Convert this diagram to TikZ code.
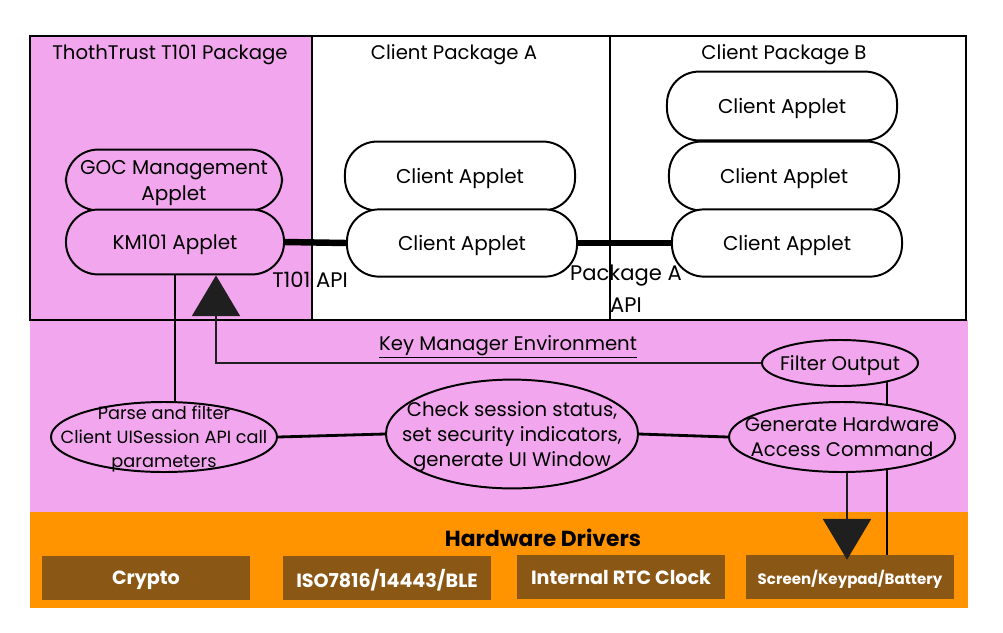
\documentclass[tikz,border=0pt]{standalone}
\usepackage{fontspec}
\setmainfont{Poppins}
\usetikzlibrary{shapes.geometric, arrows.meta, positioning, calc, backgrounds}
\definecolor{kmpink}{RGB}{242,166,238}
\definecolor{hworange}{RGB}{255,148,0}
\definecolor{drvbrown}{RGB}{139,87,20}

\begin{document}
\begin{tikzpicture}[
    x=0.025cm, y=-0.025cm,
    pkg/.style={draw, line width=1.4pt},
    title/.style={font=\fontsize{14}{18}\selectfont},
    applet/.style={draw, line width=1.4pt, rounded corners=0.8cm, minimum width=5.75cm, minimum height=1.72cm, font=\fontsize{14.2}{18.5}\selectfont, align=center, inner sep=1pt, text depth=0pt},
    task/.style={draw, line width=1.4pt, ellipse, fill=kmpink, inner sep=-25pt, align=center, font=\fontsize{14}{18}\selectfont, text depth=0pt},
    driver/.style={fill=drvbrown, text=white, font=\bfseries\fontsize{13.6}{16}\selectfont, minimum width=5.2cm, minimum height=1.1cm, text depth=0pt},
    link/.style={line width=2pt},
    api/.style={line width=4.6pt},
    arrow/.style={-{Triangle[width=34pt, length=29pt]}, line width=2pt, color=black!88}
]
    \useasboundingbox (0,0) rectangle (1003,632);

    % Regions
    \begin{scope}[on background layer]
        \fill[white] (0,0) rectangle (1003,632);
        \fill[kmpink] (30,320) rectangle (968,512);
        \fill[hworange] (30,512) rectangle (968,608);
    \end{scope}
    \draw[pkg, fill=kmpink] (30,36) rectangle (312,320);
    \draw[pkg] (312,36) rectangle (610,320);
    \draw[pkg] (610,36) rectangle (966,320);

    % Package titles
    \node[title] (t101) at (170,55) {ThothTrust T101 Package};
    \node[title] (pkga) at (454,55) {Client Package A};
    \node[title] (pkgb) at (784,55) {Client Package B};

    % Applets
    \node[applet, fill=kmpink, minimum width=5.4cm, minimum height=1.52cm] (goc) at (174,180) {GOC Management\\Applet};
    \node[applet, fill=kmpink, minimum width=5.45cm, minimum height=1.62cm] (km) at (175,242) {KM101 Applet};
    \node[applet, fill=white] (a1) at (460,176) {Client Applet};
    \node[applet, fill=white, minimum height=1.68cm] (a2) at (462,243) {Client Applet};
    \node[applet, fill=white] (b1) at (782,106) {Client Applet};
    \node[applet, fill=white] (b2) at (784,176) {Client Applet};
    \node[applet, fill=white, minimum height=1.68cm] (b3) at (787,243) {Client Applet};

    % API links
    \draw[api] (km.east) -- (a2.west);
    \draw[api] (a2.east) -- (b3.west);
    \node[title, font=\fontsize{15}{18}\selectfont] (t101api) at (310,280) {T101 API};
    \node[title, align=center, font=\fontsize{15}{23}\selectfont] (pkgaapi) at (626,289) {Package A\\API};

    % Key manager environment
    \node[title] (kme) at (508,347) {\underline{Key Manager Environment}};
    \node[task, minimum width=3.9cm, minimum height=1.15cm] (filt) at (840,363) {Filter Output};
    \node[task, minimum width=5.65cm, minimum height=1.75cm] (gen) at (842,437) {Generate Hardware\\Access Command};
    \node[task, minimum width=6.3cm, minimum height=2.72cm] (check) at (512,434) {Check session status,\\set security indicators,\\generate UI Window};
    \node[task, minimum width=5.65cm, minimum height=1.75cm, font=\fontsize{12.6}{17}\selectfont] (parse) at (164,437) {Parse and filter\\Client UISession API call\\parameters};

    % Hardware drivers
    \node[font=\bfseries\fontsize{15.5}{18}\selectfont] (hw) at (543,538) {Hardware Drivers};
    \node[driver] (crypto) at (146,578) {Crypto};
    \node[driver] (iso) at (387,578) {ISO7816/14443/BLE};
    \node[driver] (rtc) at (621,577) {Internal RTC Clock};
    \node[driver, font=\bfseries\fontsize{10.7}{12}\selectfont] (scr) at (850,577) {Screen/Keypad/Battery};

    % Connectors
    \coordinate (tap) at (887,363);
    \begin{scope}[on background layer]
        \draw[link] (tap) -- (tap |- scr.north);
    \end{scope}
    \draw[link] (km.south) -- (km.south |- parse.north);
    \draw[link] (parse.east) -- (check.west);
    \draw[link] (check.east) -- (gen.west);
    \draw[arrow] (filt.west) -| ($(km.south)+(41,0)$);
    \draw[arrow] ($(gen.south)+(5,0)$) -- ($(scr.north)+(-3,5)$);
\end{tikzpicture}
\end{document}
